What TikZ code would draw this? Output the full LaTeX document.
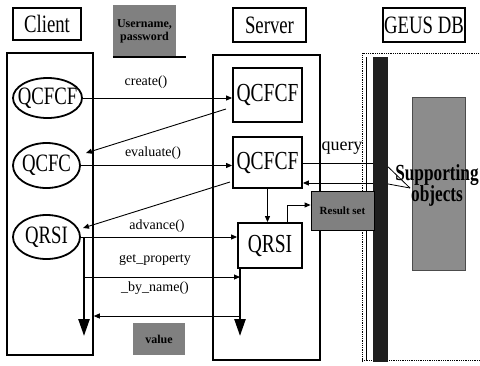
\documentclass[tikz,border=0pt]{standalone}
\usepackage{fontspec}
\setmainfont{Liberation Serif}
\newfontfamily\condf[FakeStretch=0.75]{Liberation Serif}
\usetikzlibrary{shapes.geometric,arrows.meta,calc}
\begin{document}
\begin{tikzpicture}[x=1pt,y=-1pt,
  bigtxt/.style={font=\condf\fontsize{25}{25}\selectfont, inner sep=0},
  smalltxt/.style={font=\fontsize{14}{14}\selectfont, inner sep=0},
  ttlbox/.style={draw, line width=1.2pt, inner sep=0, font=\condf\fontsize{25}{25}\selectfont},
  frame/.style={draw, line width=1.5pt, inner sep=0},
  ell/.style={ellipse, draw, line width=1.8pt, inner sep=0},
  srv/.style={rectangle, draw, line width=1.8pt, inner sep=0, font=\condf\fontsize{26}{26}\selectfont},
  arr/.style={-{Triangle[length=6pt,width=5pt]}, line width=0.9pt},
  life/.style={-{Triangle[length=17pt,width=11pt]}, line width=2.5pt},
  greytag/.style={fill=black!50, inner sep=0, font=\bfseries\fontsize{12}{13}\selectfont, align=center},
]
\useasboundingbox (0,0) rectangle (480,365);

% titles
\node[ttlbox, minimum width=68pt, minimum height=32pt] (clientlbl) at (47,24) {Client};
\node[ttlbox, minimum width=73pt, minimum height=34pt] (serverlbl) at (269.5,25) {Server};
\node[ttlbox, minimum width=82pt, minimum height=34pt] (dblbl) at (424,25) {GEUS DB};

% frames
\node[frame, minimum width=86pt, minimum height=302pt] (cbox) at (50,204) {};
\node[frame, minimum width=107pt, minimum height=305pt] (sbox) at (266.5,207.5) {};
\draw[densely dotted, line width=0.8pt] (362,362) -- (362,53) -- (482,53);
\draw[densely dotted, line width=0.8pt] (362,360) -- (482,360);
\draw[line width=0.6pt] (366,57) -- (366,360);

% DB contents
\node[fill=black!45, draw=black!70, line width=0.6pt, minimum width=53pt, minimum height=173pt, inner sep=0] (sup) at (438.5,183.5) {};
\node[fill=black!88, minimum width=15pt, minimum height=305pt, inner sep=0] (bar) at (380.5,209.5) {};
\node[font=\condf\bfseries\fontsize{23}{23}\selectfont, inner sep=0, align=center] (suptxt) at (437,185) {Supporting\\[-2pt]objects};
\node[draw, line width=0.8pt, fill=black!50, minimum width=63pt, minimum height=39pt, inner sep=0, font=\bfseries\fontsize{11}{11}\selectfont] (rs) at (342.5,210.5) {Result set};

% grey tags
\node[greytag, minimum width=63pt, minimum height=52pt] (user) at (144.5,31) {Username,\\password};
\draw[line width=2.5pt] (user.south west) -- ++(73,0);
\node[greytag, minimum width=52pt, minimum height=32pt] (val) at (159,339) {value};

% client ellipses
\node[ell, minimum width=69pt, minimum height=40pt] (e1) at (47.5,98) {};
\node[bigtxt] at (e1) {QCFCF};
\node[ell, minimum width=67pt, minimum height=45pt] (e2) at (46.5,165.5) {};
\node[bigtxt] at (e2) {QCFC};
\node[ell, minimum width=67pt, minimum height=44pt] (e3) at (46.5,237) {};
\node[bigtxt] at (e3) {QRSI};

% server boxes
\node[srv, minimum width=69pt, minimum height=54pt] (s1) at (267.5,95) {QCFCF};
\node[srv, minimum width=69pt, minimum height=51pt] (s2) at (267.5,162.5) {QCFCF};
\node[srv, minimum width=64pt, minimum height=45pt] (s3) at (270,245.5) {QRSI};

% coordinates
\coordinate (d1a) at (226,109);
\coordinate (d1b) at (86,153);
\coordinate (d2a) at (230,182);
\coordinate (d2b) at (83,228);
\coordinate (cl1) at (84,237);
\coordinate (cl2) at (84,336);
\coordinate (sl1) at (240,268);
\coordinate (sl2) at (240,336);
\coordinate (rk) at (287,205);
\coordinate (so) at (410,188);

% messages
\draw[arr] (e1.east) -- (e1.east -| s1.west);
\node[smalltxt] (lcreate) at (146,82) {create()};
\draw[arr] (d1a) -- (d1b);
\draw[arr] (e2.east) -- (e2.east -| s2.west);
\node[smalltxt] (leval) at (153,153) {evaluate()};
\draw[arr] (d2a) -- (d2b);
\draw[arr] (e3.east) -- (e3.east -| s3.west);
\node[smalltxt] (ladv) at (157,226) {advance()};
\draw[arr] (cl1 |- 0,277) -- (sl1 |- 0,277);
\node[smalltxt] (lget1) at (155,260) {get\_property};
\node[smalltxt] (lget2) at (155,288) {\_by\_name()};
\draw[arr] (sl1 |- 0,316) -- (cbox.east |- 0,316);

% lifelines
\draw[life] (cl1) -- (cl2);
\draw[life] (sl1) -- (sl2);

% server internal
\draw[arr] (s2.south) -- (s2.south |- s3.north);
\draw[arr] (s3.north -| rk) -- (rk) -- (rk -| rs.west);

% query
\draw[line width=0.9pt] (s2.east |- 0,163) -- (bar.west |- 0,163);
\draw[arr] (bar.west |- 0,183) -- (s2.east |- 0,183);
\node[font=\fontsize{18}{18}\selectfont, inner sep=0] (lquery) at (342,148) {query};
\draw[line width=0.8pt] (bar.east |- 0,167) -- (so);
\draw[line width=0.8pt] (bar.east |- 0,184) -- (so);
\end{tikzpicture}
\end{document}
